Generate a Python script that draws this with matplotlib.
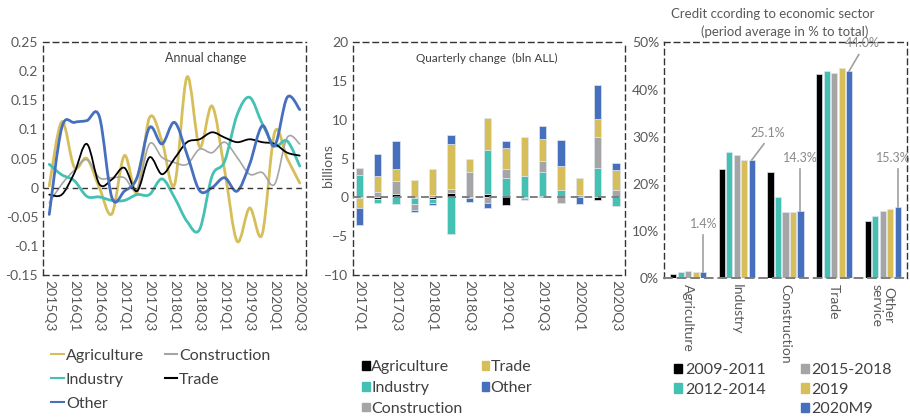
import matplotlib
matplotlib.use("Agg")
import matplotlib.pyplot as plt
from matplotlib.path import Path
from matplotlib.patches import PathPatch, Rectangle
from matplotlib.lines import Line2D
import numpy as np

plt.rcParams['font.family'] = ['Lato', 'DejaVu Sans']

# ---- data ----
sectors = ['Agriculture', 'Industry', 'Construction', 'Trade', 'Other']

# annual change, 2015Q3 .. 2020Q3
annual_labels = ['2015Q3', '2016Q1', '2016Q3', '2017Q1', '2017Q3', '2018Q1',
                 '2018Q3', '2019Q1', '2019Q3', '2020Q1', '2020Q3']
agri_y = [0.003, 0.113, 0.035, 0.05, 0.0, -0.045, 0.055, -0.008, 0.12, 0.08, 0.005,
          0.19, 0.07, 0.14, 0.03, -0.092, -0.035, -0.08, 0.095, 0.05, 0.008]
ind_y = [0.04, 0.022, 0.012, -0.015, -0.016, -0.022, -0.022, -0.012, -0.012, 0.015, -0.017,
         -0.058, -0.072, 0.02, 0.045, 0.125, 0.155, 0.11, 0.072, 0.08, 0.037]
con_y = [-0.026, 0.006, 0.03, 0.048, 0.017, 0.017, 0.017, -0.003, 0.075, 0.052, 0.043,
         0.04, 0.066, 0.06, 0.078, 0.052, 0.023, 0.026, 0.006, 0.086, 0.075]
trade_y = [-0.012, -0.012, 0.025, 0.075, 0.006, 0.014, 0.034, -0.006, 0.052, 0.023, 0.05,
           0.078, 0.083, 0.095, 0.086, 0.078, 0.083, 0.078, 0.075, 0.06, 0.055]
other_y = [-0.046, 0.103, 0.112, 0.115, 0.122, -0.017, -0.006, 0.017, 0.103, 0.075, 0.112,
           0.057, -0.005, 0.0, 0.017, -0.006, 0.04, 0.106, 0.072, 0.155, 0.134]

# quarterly change (bln ALL), 2017Q1 .. 2020Q3
quarter_labels = ['2017Q1', '2017Q3', '2018Q1', '2018Q3', '2019Q1', '2019Q3', '2020Q1', '2020Q3']
agri_q = [-0.05, -0.2, 0.4, -0.05, -0.2, 0.6, -0.1, 0.45, -1.0, -0.05, 0.2, 0.15, 0.0, -0.3, 0.0]
ind_q = [2.9, -0.55, -0.9, -0.75, -0.5, -4.75, 0.0, 5.65, 2.5, 2.8, 3.1, 0.8, 0.0, 3.8, -1.1]
con_q = [0.9, 0.7, 1.7, -0.85, 0.3, 0.47, 3.3, -0.75, 1.2, -0.3, 1.4, -0.75, 0.3, 4.0, 1.0]
trade_q = [-1.3, 2.1, 1.6, 2.2, 3.4, 5.8, 1.66, 4.1, 2.7, 5.0, 2.8, 3.1, 2.15, 2.3, 2.5]
other_q = [-2.2, 2.8, 3.6, -0.3, -0.3, 1.1, -0.45, -0.65, 0.9, 0.0, 1.7, 3.3, -0.85, 4.35, 0.95]

# credit share by sector (%)
share_cats = ['Agriculture', 'Industry', 'Construction', 'Trade', 'Other\nservice']
periods = ['2009-2011', '2012-2014', '2015-2018', '2019', '2020M9']
s_2009 = [1.0, 23.1, 22.5, 43.2, 12.2]
s_2012 = [1.3, 26.7, 17.2, 43.9, 13.1]
s_2015 = [1.5, 26.1, 14.0, 43.6, 14.3]
s_2019 = [1.3, 25.1, 14.0, 44.6, 14.6]
s_2020 = [1.3, 25.1, 14.3, 43.9, 15.0]
share_labels = ['1.4%', '25.1%', '14.3%', '44.0%', '15.3%']

c_yel = '#D6BF5A'
c_teal = '#45C1B4'
c_gray = '#A5A5A5'
c_blue = '#4670BE'
c_blk = '#000000'
txt = '#595959'

fig = plt.figure(figsize=(9.1, 4.19), dpi=100)
ax1 = fig.add_axes([43/910, 1-275/419, 263/910, 233/419])
ax2 = fig.add_axes([353/910, 1-275/419, 272/910, 233/419])
ax3 = fig.add_axes([664/910, 1-278.3/419, 243/910, 236/419])


def frame(ax):
    for s in ax.spines.values():
        s.set_linestyle((0, (4, 3)))
        s.set_color('#333333')
        s.set_linewidth(1.0)
    ax.tick_params(length=0, colors=txt, labelsize=10)


def smooth(ax, y, color, lw):
    pts = np.column_stack([np.arange(len(y)), y])
    ext = np.vstack([pts[0], pts, pts[-1]])
    verts = [pts[0]]
    codes = [Path.MOVETO]
    for i in range(len(pts) - 1):
        p0, p1, p2, p3 = ext[i], ext[i + 1], ext[i + 2], ext[i + 3]
        verts += [p1 + (p2 - p0) / 6, p2 - (p3 - p1) / 6, p2]
        codes += [Path.CURVE4] * 3
    ax.add_patch(PathPatch(Path(verts, codes), fc='none', ec=color, lw=lw, capstyle='round'))


# ---- left: annual change ----
frame(ax1)
ax1.axhline(0, color='#333333', lw=1.0, ls=(0, (4, 3)))
smooth(ax1, agri_y, c_yel, 2.0)
smooth(ax1, con_y, c_gray, 1.2)
smooth(ax1, ind_y, c_teal, 2.0)
smooth(ax1, trade_y, c_blk, 1.3)
smooth(ax1, other_y, c_blue, 2.0)
ax1.set_xlim(-0.5, 20.5)
ax1.set_ylim(-0.15, 0.25)
ax1.set_yticks([0.25, 0.2, 0.15, 0.1, 0.05, 0, -0.05, -0.1, -0.15])
ax1.set_yticklabels(['0.25', '0.2', '0.15', '0.1', '0.05', '0', '-0.05', '-0.1', '-0.15'])
ax1.set_xticks(range(0, 21, 2))
ax1.set_xticklabels(annual_labels, rotation=-90)
ax1.text(0.62, 0.93, 'Annual change', transform=ax1.transAxes, ha='center',
         va='center', fontsize=9, color='#404040')
h1 = [Line2D([], [], color=c, lw=1.5) for c in [c_yel, c_teal, c_blue, c_gray, c_blk]]
ax1.legend(h1, ['Agriculture', 'Industry', 'Other', 'Construction', 'Trade'], ncol=2,
           loc='upper left', bbox_to_anchor=(45/910, 1-342/419), bbox_transform=fig.transFigure,
           frameon=False, fontsize=11.5, handlelength=0.8, handletextpad=0.1,
           columnspacing=1.3, labelspacing=0.62, labelcolor='#404040', borderaxespad=0)

# ---- middle: quarterly change ----
frame(ax2)
xq = np.arange(len(agri_q))
pos = np.zeros(len(xq))
neg = np.zeros(len(xq))
for vals, col in [(agri_q, c_blk), (ind_q, c_teal), (con_q, c_gray), (trade_q, c_yel), (other_q, c_blue)]:
    v = np.array(vals)
    base = np.where(v >= 0, pos, neg)
    ax2.bar(xq, v, 0.4, bottom=base, color=col, edgecolor='#dfe6ef', lw=0.5, zorder=2)
    pos += np.where(v >= 0, v, 0)
    neg += np.where(v < 0, v, 0)
ax2.axhline(0, color='#7f7f7f', lw=1.4, ls=(0, (4, 3)), zorder=3)
ax2.set_xlim(-0.35, 14.5)
ax2.set_ylim(-10, 20)
ax2.set_yticks([20, 15, 10, 5, 0, -5, -10])
ax2.set_xticks(range(0, 15, 2))
ax2.set_xticklabels(quarter_labels, rotation=-90)
ax2.set_ylabel('billions', color=txt, fontsize=10)
ax2.yaxis.set_label_coords(-0.07, 0.47)
ax2.text(0.49, 0.93, 'Quarterly change  (bln ALL)', transform=ax2.transAxes, ha='center',
         va='center', fontsize=8.5, color='#404040')
h2 = [Rectangle((0, 0), 1, 1, color=c) for c in [c_blk, c_teal, c_gray, c_yel, c_blue]]
ax2.legend(h2, sectors, ncol=2, loc='upper left', bbox_to_anchor=(356/910, 1-354/419),
           bbox_transform=fig.transFigure, frameon=False, fontsize=11.5, handlelength=0.45,
           handleheight=0.45, handletextpad=0.1, columnspacing=1.2, labelspacing=0.42,
           labelcolor='#404040', borderaxespad=0)

# ---- right: credit shares ----
frame(ax3)
ax3.spines['bottom'].set_color('#7f7f7f')
ax3.spines['bottom'].set_linewidth(1.4)
xs = np.arange(len(share_cats))
cols = [c_blk, c_teal, c_gray, c_yel, c_blue]
for k, (vals, col) in enumerate(zip([s_2009, s_2012, s_2015, s_2019, s_2020], cols)):
    ax3.bar(xs + (k - 2) * 0.154, vals, 0.125, color=col, edgecolor='#dfe6ef', lw=0.5, zorder=2)
ax3.set_xlim(-0.5, 4.5)
ax3.set_ylim(0, 50)
ax3.set_yticks(range(0, 51, 10))
ax3.set_yticklabels([f'{t}%' for t in range(0, 51, 10)])
ax3.set_xticks(xs)
ax3.set_xticklabels(share_cats, rotation=-90, va='top', ha='center', linespacing=1.0)
ax3.tick_params(axis='x', pad=4)
fig.text(773/910, 1-14/419, 'Credit ccording to economic sector', ha='center', va='center',
         fontsize=9.5, color=txt)
fig.text(785/910, 1-32/419, '(period average in % to total)', ha='center', va='center',
         fontsize=9.5, color=txt)
# leader labels for the latest period
lab_off = [(0.0, 9.0), (0.25, 4.5), (0.0, 10.0), (0.2, 4.6), (0.0, 9.3)]
txt_shift = [0.0, 0.07, 0.0, 0.07, -0.1]
for i, (v, lab) in enumerate(zip(s_2020, share_labels)):
    bx = i + 2 * 0.154
    dx, dy = lab_off[i]
    ax3.plot([bx, bx + dx], [v, v + dy - 1.1], color='#a0a0a0', lw=1.2, zorder=3, clip_on=False)
    ax3.text(bx + dx + txt_shift[i], v + dy, lab, ha='center', va='bottom',
             fontsize=9, color='#8a8a8a', clip_on=False)
blank = Rectangle((0, 0), 1, 1, alpha=0)
h3 = [Rectangle((0, 0), 1, 1, color=c) for c in cols]
ax3.legend([h3[0], h3[1], blank, h3[2], h3[3], h3[4]],
           [periods[0], periods[1], '', periods[2], periods[3], periods[4]], ncol=2,
           loc='upper left', bbox_to_anchor=(668/910, 1-357/419), bbox_transform=fig.transFigure,
           frameon=False, fontsize=11.5, handlelength=0.5, handleheight=0.5, handletextpad=0.15,
           columnspacing=2.2, labelspacing=0.33, labelcolor='#404040', borderaxespad=0)

fig.savefig('out.png', dpi=100)
